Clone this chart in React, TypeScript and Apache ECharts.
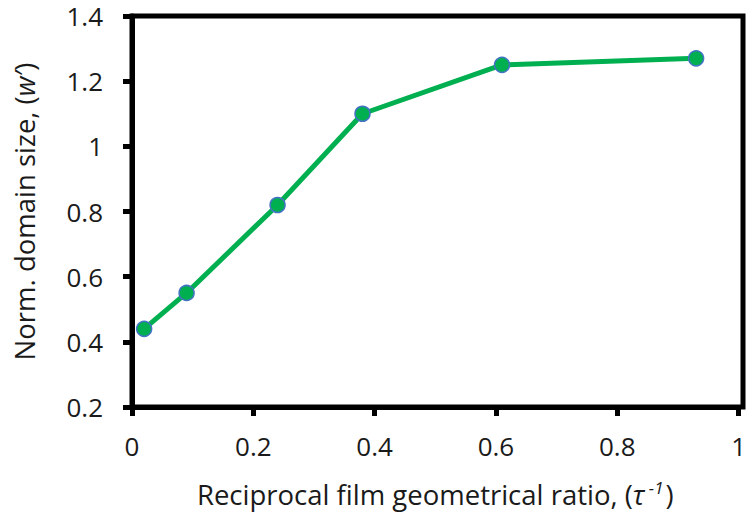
import React, { useEffect, useRef } from "react";
import * as echarts from "echarts";

const xValues = [0.02, 0.09, 0.24, 0.38, 0.61, 0.93];
const yValues = [0.44, 0.55, 0.82, 1.1, 1.25, 1.27];
const xTicks = [0, 0.2, 0.4, 0.6, 0.8, 1];
const yTicks = [0.2, 0.4, 0.6, 0.8, 1, 1.2, 1.4];

const FONT = "Open Sans";
const TXT = "#1a1a1a";
const TITLE = 27.5;

export default function App() {
  const ref = useRef<HTMLDivElement>(null);
  useEffect(() => {
    if (!ref.current) return;
    const chart = echarts.init(ref.current, undefined, { renderer: "svg" });
    const data = xValues.map((x, i) => [x, yValues[i]]);
    chart.setOption({
      animation: false,
      backgroundColor: "#ffffff",
      grid: { left: 132, right: 6, top: 16, bottom: 110, containLabel: false },
      xAxis: {
        type: "value",
        min: 0,
        max: 1,
        interval: 0.2,
        name: "{n|Reciprocal film geometrical ratio, (}{i|τ}{s| -1}{n|)}",
        nameLocation: "middle",
        nameGap: 72,
        nameTextStyle: {
          rich: {
            n: { fontFamily: FONT, fontSize: TITLE, color: TXT },
            i: { fontFamily: FONT, fontSize: TITLE, color: TXT, fontStyle: "italic" },
            s: { fontFamily: FONT, fontSize: 17, color: TXT, fontStyle: "italic", verticalAlign: "top", padding: [0, 2, 13, 0] },
          },
        },
        axisLine: { onZero: false, lineStyle: { color: "#000", width: 5 } },
        axisTick: { show: true, inside: false, length: 9, lineStyle: { color: "#000", width: 5 } },
        axisLabel: {
          margin: 26,
          fontFamily: FONT,
          fontSize: 26,
          lineHeight: 26,
          color: TXT,
          formatter: (v: number) => String(xTicks.find((t) => Math.abs(t - v) < 1e-9) ?? v),
        },
        splitLine: { show: false },
      },
      yAxis: {
        type: "value",
        min: 0.2,
        max: 1.4,
        interval: 0.2,
        name: "{n|Norm. domain size, (}{i|w′}{n|)}",
        nameLocation: "middle",
        nameGap: 94,
        nameRotate: 90,
        nameTextStyle: {
          rich: {
            n: { fontFamily: FONT, fontSize: TITLE, color: TXT },
            i: { fontFamily: FONT, fontSize: TITLE, color: TXT, fontStyle: "italic" },
          },
        },
        axisLine: { onZero: false, lineStyle: { color: "#000", width: 5 } },
        axisTick: { show: true, inside: false, length: 9, lineStyle: { color: "#000", width: 5 } },
        axisLabel: {
          margin: 29,
          fontFamily: FONT,
          fontSize: 26,
          lineHeight: 26,
          color: TXT,
          formatter: (v: number) => String(yTicks.find((t) => Math.abs(t - v) < 1e-9) ?? v),
        },
        splitLine: { show: false },
      },
      graphic: [
        {
          type: "rect",
          shape: { x: 132, y: 16, width: 611, height: 391 },
          style: { fill: "none", stroke: "#000", lineWidth: 5 },
          z: 10,
          silent: true,
        },
      ],
      series: [
        {
          type: "line",
          data,
          symbol: "circle",
          symbolSize: 15,
          lineStyle: { color: "#00B050", width: 5 },
          itemStyle: { color: "#00B050", borderColor: "#4472C4", borderWidth: 1.5 },
          z: 20,
        },
      ],
    });
    return () => chart.dispose();
  }, []);
  return (
    <div
      ref={ref}
      style={{ position: "fixed", left: 0, top: 0, width: 749, height: 517 }}
    />
  );
}
